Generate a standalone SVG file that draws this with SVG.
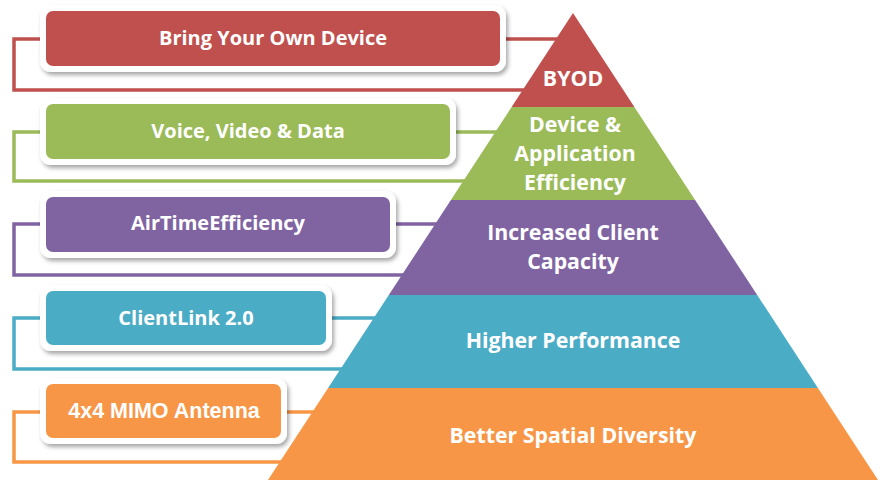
<svg xmlns="http://www.w3.org/2000/svg" width="880" height="481" viewBox="0 0 880 481">
<defs>
<filter id="sh" x="-10%" y="-20%" width="120%" height="150%">
<feDropShadow dx="2" dy="3" stdDeviation="2" flood-color="#000" flood-opacity="0.35"/>
</filter>
</defs>
<style>
.conn{fill:none;stroke-width:3.5;stroke-linejoin:miter}
.frame{fill:#fff;filter:url(#sh)}
.lbl{font-family:"Open Sans",Lato,"Liberation Sans",sans-serif;font-weight:bold;fill:#fff;text-anchor:middle;font-size:20px}
.arial{font-family:"Liberation Sans",Arial,sans-serif;font-size:21.5px}
.plbl{font-family:"Open Sans",Lato,"Liberation Sans",sans-serif;font-weight:bold;fill:#fff;text-anchor:middle;font-size:21.3px}
</style>
<rect width="880" height="481" fill="#fff"/>
<g id="connectors">
<path class="conn" stroke="#C0504D" d="M575 39 H14 V90 H575"/>
<path class="conn" stroke="#9BBB59" d="M575 132 H14 V181 H575"/>
<path class="conn" stroke="#8064A2" d="M575 224 H14 V275 H575"/>
<path class="conn" stroke="#4BACC6" d="M575 318 H14 V369 H575"/>
<path class="conn" stroke="#F79646" d="M575 412 H14 V462 H575"/>
</g>
<g id="box-byod-device">
<rect class="frame" x="40" y="5" width="466" height="67" rx="11"/>
<rect x="46" y="11" width="454" height="55" rx="7" fill="#C0504D"/>
<text class="lbl" x="273" y="45">Bring Your Own Device</text>
</g>
<g id="box-voice">
<rect class="frame" x="40" y="98" width="416" height="67" rx="11"/>
<rect x="46" y="104" width="404" height="55" rx="7" fill="#9BBB59"/>
<text class="lbl" x="248" y="138">Voice, Video &amp; Data</text>
</g>
<g id="box-airtime">
<rect class="frame" x="40" y="191" width="356" height="67" rx="11"/>
<rect x="46" y="197" width="344" height="55" rx="7" fill="#8064A2"/>
<text class="lbl" x="218" y="230">AirTimeEfficiency</text>
</g>
<g id="box-clientlink">
<rect class="frame" x="40" y="285" width="292" height="66" rx="11"/>
<rect x="46" y="291" width="280" height="54" rx="7" fill="#4BACC6"/>
<text class="lbl" x="186" y="325">ClientLink 2.0</text>
</g>
<g id="box-mimo">
<rect class="frame" x="40" y="378" width="247" height="66" rx="11"/>
<rect x="46" y="384" width="235" height="54" rx="7" fill="#F79646"/>
<text class="lbl arial" x="164" y="418">4x4 MIMO Antenna</text>
</g>
<g id="tier-byod">
<polygon points="573,13 634.4,107 511.6,107" fill="#C0504D"/>
<text class="plbl" x="573" y="86">BYOD</text>
</g>
<g id="tier-device">
<polygon points="511.6,107 634.4,107 695.1,200 450.9,200" fill="#9BBB59"/>
<text class="plbl" x="575" y="132">Device &amp;</text>
<text class="plbl" x="575" y="161">Application</text>
<text class="plbl" x="575" y="190">Efficiency</text>
</g>
<g id="tier-capacity">
<polygon points="450.9,200 695.1,200 757.2,295 388.8,295" fill="#8064A2"/>
<text class="plbl" x="573" y="240">Increased Client</text>
<text class="plbl" x="573" y="269">Capacity</text>
</g>
<g id="tier-performance">
<polygon points="388.8,295 757.2,295 817.9,388 328.1,388" fill="#4BACC6"/>
<text class="plbl" x="573" y="348">Higher Performance</text>
</g>
<g id="tier-spatial">
<polygon points="328.1,388 817.9,388 878,480 268,480" fill="#F79646"/>
<text class="plbl" x="573" y="443">Better Spatial Diversity</text>
</g>
</svg>
